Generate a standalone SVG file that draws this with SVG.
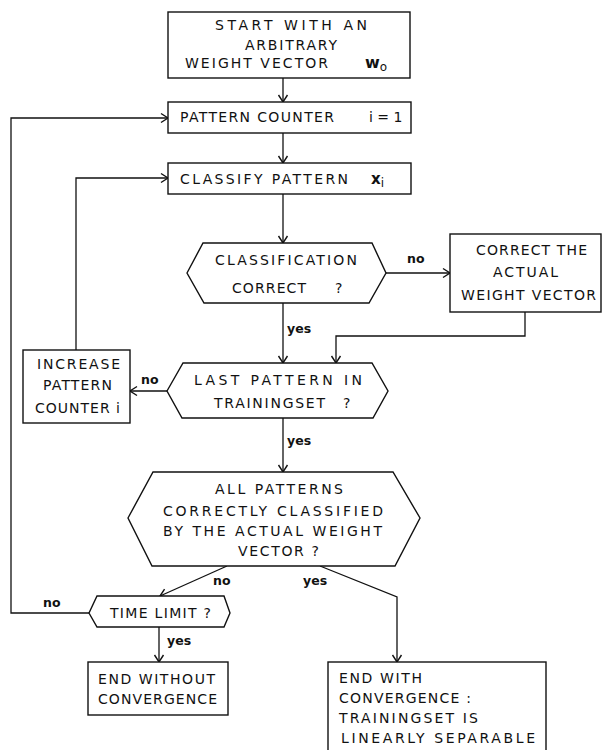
<svg xmlns="http://www.w3.org/2000/svg" width="603" height="750" viewBox="0 0 603 750">
  <defs>
    <style>
      .box { fill: #fff; stroke: #111; stroke-width: 1.4; }
      .edge { fill: none; stroke: #111; stroke-width: 1.3; }
      .t { font-family: "DejaVu Sans", "Liberation Sans", sans-serif; font-size: 14px; fill: #111; }
      .lbl { font-family: "DejaVu Sans", "Liberation Sans", sans-serif; font-size: 12.5px; font-weight: bold; fill: #111; }
      .sym { font-family: "DejaVu Sans", "Liberation Sans", sans-serif; font-weight: bold; fill: #111; }
    </style>
    <marker id="arr" markerUnits="userSpaceOnUse" markerWidth="12" markerHeight="12" refX="0" refY="0" viewBox="-8 -6 10 12" orient="auto">
      <path d="M-7,-4.5 L0,0 L-7,4.5" fill="none" stroke="#111" stroke-width="1.4"/>
    </marker>
  </defs>
  <rect width="603" height="750" fill="#fff"/>

  <!-- connectors -->
  <g id="connectors" class="edge" marker-end="url(#arr)">
    <path d="M283,78 V102"/>
    <path d="M283,133 V163"/>
    <path d="M283,194 V243"/>
    <path d="M386,273 H450"/>
    <path d="M283,303 V363"/>
    <path d="M525,312 V336 H336 V363"/>
    <path d="M167,391 H130"/>
    <path d="M76,350 V178 H168"/>
    <path d="M283,418 V472"/>
    <path d="M227,566 L160,596"/>
    <path d="M320,566 L397,597 V662"/>
    <path d="M159,627 V662"/>
    <path d="M89,613 H11 V118 H168"/>
  </g>

  <!-- edge labels -->
  <g id="edge-labels">
    <text class="lbl" x="407" y="263">no</text>
    <text class="lbl" x="287" y="333">yes</text>
    <text class="lbl" x="141" y="384">no</text>
    <text class="lbl" x="287" y="445">yes</text>
    <text class="lbl" x="213" y="585">no</text>
    <text class="lbl" x="303" y="585">yes</text>
    <text class="lbl" x="43" y="607">no</text>
    <text class="lbl" x="167" y="645">yes</text>
  </g>

  <g id="start">
    <rect class="box" x="168" y="12" width="242" height="66"/>
    <text class="t" x="215" y="30" textLength="152" lengthAdjust="spacing">START  WITH  AN</text>
    <text class="t" x="245" y="50" textLength="92" lengthAdjust="spacing">ARBITRARY</text>
    <text class="t" x="185" y="68" textLength="143" lengthAdjust="spacing">WEIGHT  VECTOR</text>
    <text class="sym" x="365" y="68" font-size="16">w<tspan font-size="12" dy="3" font-weight="normal">o</tspan></text>
  </g>

  <g id="pattern-counter">
    <rect class="box" x="168" y="102" width="243" height="31"/>
    <text class="t" x="180" y="122" textLength="154" lengthAdjust="spacing">PATTERN  COUNTER</text>
    <text class="t" x="369" y="122">i = 1</text>
  </g>

  <g id="classify">
    <rect class="box" x="168" y="163" width="243" height="31"/>
    <text class="t" x="180" y="184" textLength="168" lengthAdjust="spacing">CLASSIFY  PATTERN</text>
    <text class="sym" x="371" y="184" font-size="15">x<tspan font-size="12" dy="3" font-weight="normal">i</tspan></text>
  </g>

  <g id="classification-correct">
    <polygon class="box" points="187,273 203,243 372,243 386,273 369,303 204,303"/>
    <text class="t" x="215" y="265" textLength="142" lengthAdjust="spacing">CLASSIFICATION</text>
    <text class="t" x="232" y="293" textLength="74" lengthAdjust="spacing">CORRECT</text>
    <text class="t" x="335" y="293">?</text>
  </g>

  <g id="correct-weight">
    <rect class="box" x="450" y="234" width="151" height="78"/>
    <text class="t" x="476" y="255" textLength="111" lengthAdjust="spacing">CORRECT THE</text>
    <text class="t" x="493" y="277" textLength="65" lengthAdjust="spacing">ACTUAL</text>
    <text class="t" x="461" y="300" textLength="135" lengthAdjust="spacing">WEIGHT VECTOR</text>
  </g>

  <g id="last-pattern">
    <polygon class="box" points="167,391 183,363 372,363 388,391 373,418 182,418"/>
    <text class="t" x="194" y="385" textLength="168" lengthAdjust="spacing">LAST  PATTERN  IN</text>
    <text class="t" x="214" y="408" textLength="111" lengthAdjust="spacing">TRAININGSET</text>
    <text class="t" x="343" y="408">?</text>
  </g>

  <g id="increase-counter">
    <rect class="box" x="23" y="350" width="107" height="73"/>
    <text class="t" x="37" y="369" textLength="83" lengthAdjust="spacing">INCREASE</text>
    <text class="t" x="43" y="390" textLength="69" lengthAdjust="spacing">PATTERN</text>
    <text class="t" x="35" y="413" textLength="85" lengthAdjust="spacing">COUNTER i</text>
  </g>

  <g id="all-correct">
    <polygon class="box" points="128,518 153,472 393,472 420,518 395,566 152,566"/>
    <text class="t" x="215" y="494" textLength="128" lengthAdjust="spacing">ALL  PATTERNS</text>
    <text class="t" x="163" y="516" textLength="220" lengthAdjust="spacing">CORRECTLY CLASSIFIED</text>
    <text class="t" x="163" y="536" textLength="219" lengthAdjust="spacing">BY THE ACTUAL WEIGHT</text>
    <text class="t" x="238" y="556" textLength="81" lengthAdjust="spacing">VECTOR ?</text>
  </g>

  <g id="time-limit">
    <polygon class="box" points="89,613 97,596 224,596 230,613 224,627 97,627"/>
    <text class="t" x="110" y="618" textLength="101" lengthAdjust="spacing">TIME LIMIT ?</text>
  </g>

  <g id="end-without">
    <rect class="box" x="88" y="662" width="140" height="53"/>
    <text class="t" x="98" y="684" textLength="117" lengthAdjust="spacing">END WITHOUT</text>
    <text class="t" x="98" y="704" textLength="119" lengthAdjust="spacing">CONVERGENCE</text>
  </g>

  <g id="end-with">
    <rect class="box" x="328" y="662" width="218" height="92"/>
    <text class="t" x="339" y="683" textLength="83" lengthAdjust="spacing">END WITH</text>
    <text class="t" x="339" y="703" textLength="132" lengthAdjust="spacing">CONVERGENCE :</text>
    <text class="t" x="339" y="723" textLength="139" lengthAdjust="spacing">TRAININGSET IS</text>
    <text class="t" x="341" y="743" textLength="194" lengthAdjust="spacing">LINEARLY SEPARABLE</text>
  </g>
</svg>
